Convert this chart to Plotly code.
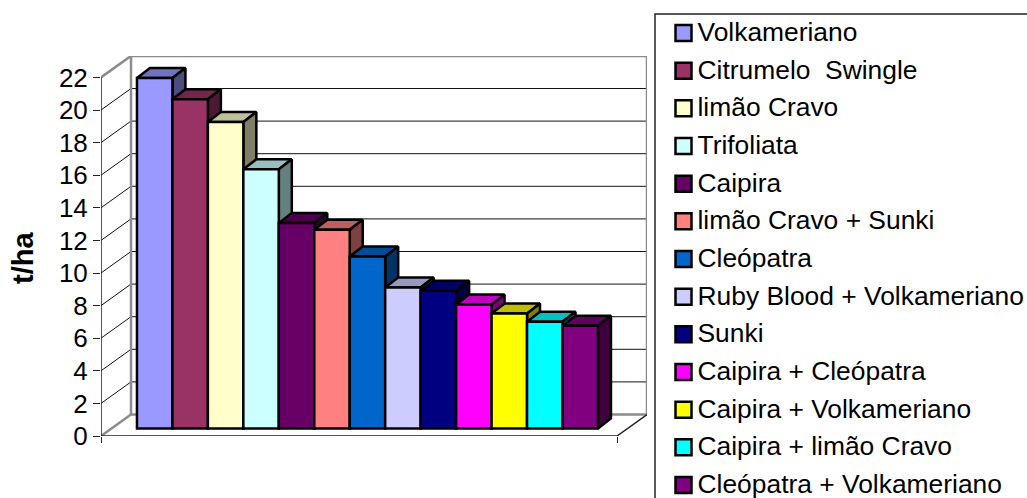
import plotly.graph_objects as go

categories = ["Volkameriano", "Citrumelo\u00a0 Swingle", "limão Cravo", "Trifoliata", "Caipira",
              "limão Cravo + Sunki", "Cleópatra", "Ruby Blood + Volkameriano", "Sunki",
              "Caipira + Cleópatra", "Caipira + Volkameriano", "Caipira + limão Cravo",
              "Cleópatra + Volkameriano"]
values = [21.5, 20.2, 18.8, 15.9, 12.6, 12.2, 10.55, 8.65, 8.45, 7.6, 7.05, 6.55, 6.3]
colors = ["#9999FF", "#993366", "#FFFFCC", "#CCFFFF", "#660066", "#FF8080", "#0066CC",
          "#CCCCFF", "#000080", "#FF00FF", "#FFFF00", "#00FFFF", "#800080"]
y_ticks = list(range(0, 24, 2))

W, H = 1027, 498
PX_L, PX_R, PX_B, PX_T = 101, 647, 436, 56   # plot area in pixels
UX, UY = 35.46, 16.3                          # pixels per category / per value
X0 = -(154.7 - PX_L) / UX
X1 = X0 + (PX_R - PX_L) / UX
Y1 = (PX_B - PX_T) / UY
WALL_DX, WALL_DY = 30 / UX, 21.5 / UY
BAR_DX, BAR_DY = 13 / UX, 10 / UY
BASE = (PX_B - 428.5) / UY
EDGE = 2.5


def shade(hex_color, f):
    r, g, b = (int(hex_color[i:i + 2], 16) for i in (1, 3, 5))
    return f"rgb({int(r * f)},{int(g * f)},{int(b * f)})"


fig = go.Figure()

# walls
grid_x, grid_y = [], []
for v in y_ticks[1:-1]:
    grid_x += [X0, X0 + WALL_DX, X1, None]
    grid_y += [v, v + WALL_DY, v + WALL_DY, None]
fig.add_trace(go.Scatter(x=grid_x, y=grid_y, mode="lines", line=dict(color="#111111", width=1),
                         cliponaxis=False, hoverinfo="skip", showlegend=False, zorder=-5))
top = y_ticks[-1]
fig.add_trace(go.Scatter(
    x=[X0, X0 + WALL_DX, X1, X1, X0 + WALL_DX, X0 + WALL_DX, None, X0, X0 + WALL_DX],
    y=[top, top + WALL_DY, top + WALL_DY, WALL_DY, WALL_DY, top + WALL_DY, None, 0, WALL_DY],
    mode="lines", line=dict(color="#8c8c8c", width=2.5),
    cliponaxis=False, hoverinfo="skip", showlegend=False, zorder=-4))
fig.add_trace(go.Scatter(
    x=[X0, X0, None, X0, X1 - WALL_DX, X1],
    y=[0, top, None, 0, 0, WALL_DY],
    mode="lines", line=dict(color="#222222", width=1.5),
    cliponaxis=False, hoverinfo="skip", showlegend=False, zorder=-3))

# bars, left to right: depth faces first, then the front face
for i, (name, val, col) in enumerate(zip(categories, values, colors)):
    L, R, T = i - 0.5, i + 0.5, BASE + val
    fig.add_trace(go.Scatter(
        x=[L, R, R + BAR_DX, L + BAR_DX, L], y=[T, T, T + BAR_DY, T + BAR_DY, T],
        fill="toself", fillcolor=shade(col, 0.75), mode="lines",
        line=dict(color="black", width=EDGE), cliponaxis=False,
        hoverinfo="skip", showlegend=False, zorder=2 * i))
    fig.add_trace(go.Scatter(
        x=[R, R + BAR_DX, R + BAR_DX, R, R],
        y=[BASE, BASE + BAR_DY, T + BAR_DY, T, BASE],
        fill="toself", fillcolor=shade(col, 0.5), mode="lines",
        line=dict(color="black", width=EDGE), cliponaxis=False,
        hoverinfo="skip", showlegend=False, zorder=2 * i))
    fig.add_trace(go.Bar(x=[i], y=[val], base=BASE, width=1, name=name,
                         marker=dict(color=col, line=dict(color="black", width=EDGE)),
                         showlegend=False, zorder=2 * i + 1))

# legend entries: swatches and their labels
rows = list(range(len(categories)))
fig.add_trace(go.Scatter(
    x=[0] * len(categories), y=rows, mode="markers",
    marker=dict(symbol="square", size=16, color=colors, line=dict(color="black", width=2.5)),
    xaxis="x2", yaxis="y2", cliponaxis=False, hoverinfo="skip", showlegend=False))
fig.add_trace(go.Scatter(
    x=[14] * len(categories), y=[r + 0.04 for r in rows], text=categories, mode="text",
    textposition="middle right",
    textfont=dict(family="Liberation Sans", size=26.4, color="black"),
    xaxis="x2", yaxis="y2", cliponaxis=False, hoverinfo="skip", showlegend=False))

LEG_L, LEG_T, LEG_Y0, LEG_STEP = 655, 14, 33, 37.67
fig.update_layout(
    width=W, height=H, autosize=False, margin=dict(l=0, r=0, t=0, b=0),
    paper_bgcolor="white", plot_bgcolor="white", barmode="overlay", showlegend=False,
    font=dict(family="Liberation Sans", size=26, color="black"),
    xaxis=dict(domain=[PX_L / W, PX_R / W], range=[X0, X1], showgrid=False, zeroline=False,
               automargin=False,
               showline=False, tickmode="array", tickvals=[X0, X1 - WALL_DX],
               showticklabels=False, ticks="outside", ticklen=6, tickwidth=1, tickcolor="#222222"),
    yaxis=dict(domain=[(H - PX_B) / H, (H - PX_T) / H], range=[0, Y1], showgrid=False,
               automargin=False,
               zeroline=False, showline=False, tickmode="array", tickvals=y_ticks,
               ticks="outside", ticklen=7, tickwidth=1, tickcolor="#222222",
               tickfont=dict(family="Liberation Sans", size=26, color="black")),
    xaxis2=dict(domain=[LEG_L / W, 1], range=[-(683.5 - LEG_L), W - 683.5], visible=False,
                automargin=False),
    yaxis2=dict(domain=[0, (H - (LEG_Y0 - LEG_STEP / 2)) / H], anchor="x2", automargin=False,
                range=[(H - LEG_Y0) / LEG_STEP, -0.5], visible=False),
    annotations=[dict(text="<b>t/ha</b>", xref="paper", yref="paper", x=23 / W, y=(H - 258) / H,
                      xanchor="center", yanchor="middle", textangle=-90, showarrow=False,
                      font=dict(family="Liberation Sans", size=29, color="black"))],
    shapes=[dict(type="rect", xref="paper", yref="paper", x0=LEG_L / W, x1=1.2,
                 y0=-0.2, y1=(H - LEG_T) / H, line=dict(color="#222222", width=1.5),
                 fillcolor="rgba(0,0,0,0)")],
)
fig.write_html("out.html", config=dict(displayModeBar=False, responsive=False),
               default_width=f"{W}px", default_height=f"{H}px",
               post_script="document.body.style.margin='0';document.body.style.overflow='hidden';")
